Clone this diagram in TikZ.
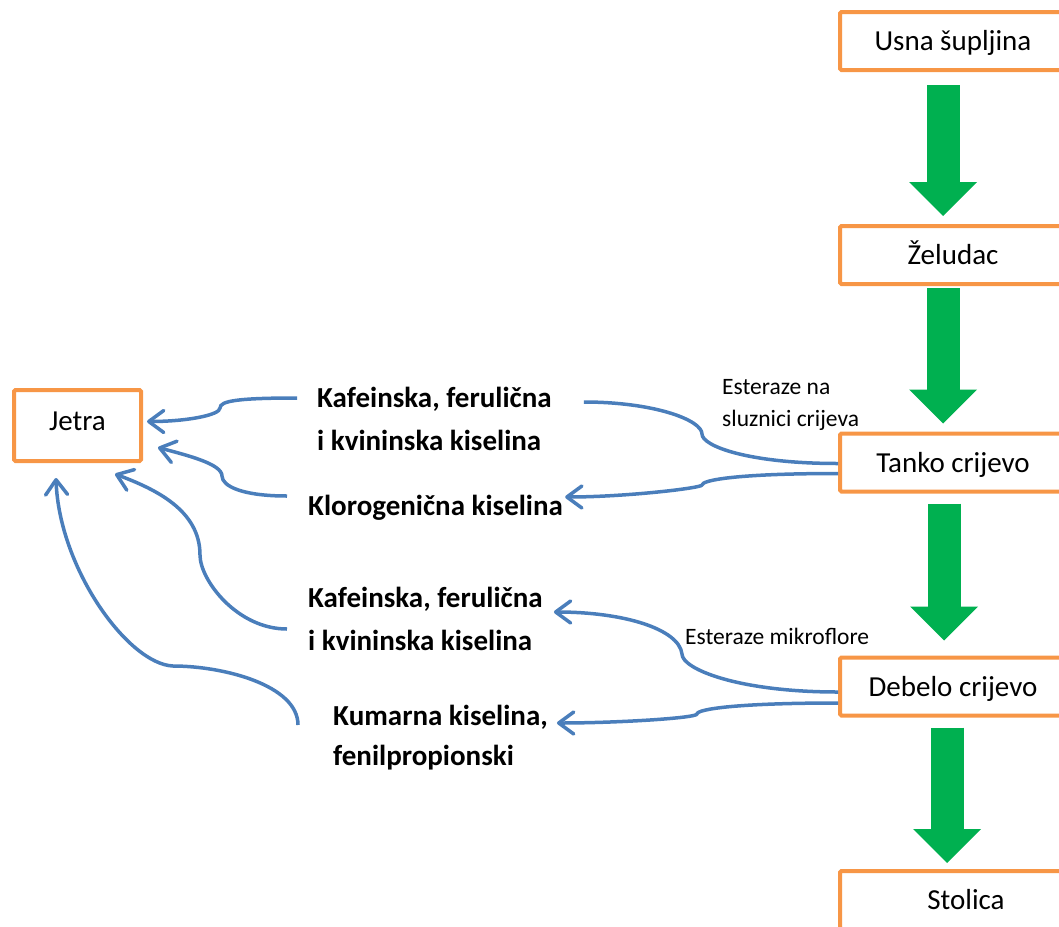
\documentclass[tikz,border=0pt]{standalone}
\usepackage{fontspec}
\setmainfont{Carlito}
\usetikzlibrary{arrows.meta,positioning}

\definecolor{organline}{HTML}{F79646}
\definecolor{flowgreen}{HTML}{00B050}
\definecolor{linkblue}{HTML}{4A7EBB}

\tikzset{
	organ/.style={draw=organline,line width=4pt,rounded corners=1.5pt,fill=white,minimum height=58pt,
		font=\fontsize{29}{35}\selectfont,text height=19pt,text depth=0pt},
	acid/.style={anchor=base west,align=left,font=\fontsize{29}{43}\selectfont\bfseries},
	enzyme/.style={anchor=base west,align=left,font=\fontsize{23.5}{32}\selectfont},
	flow/.style={draw=flowgreen,line width=33pt,-{Triangle[width=68pt,length=34pt,line width=0pt]}},
	link/.style={draw=linkblue,line width=3.5pt},
	linkarrow/.style={link,-{Straight Barb[length=15pt,width=22pt,round]}}
}

\begin{document}
\begin{tikzpicture}[x=1pt,y=-1pt,inner sep=0pt]
	\useasboundingbox (0,0) rectangle (1059,926);
	\clip (0,0) rectangle (1059,926);

	\node[organ,minimum width=226pt] (usna) at (953,41) {Usna šupljina};
	\node[organ,minimum width=226pt] (zeludac) at (953,255) {Želudac};
	\node[organ,minimum width=226pt] (tanko) at (953,462.5) {Tanko crijevo};
	\node[organ,minimum width=226pt] (debelo) at (953,686.5) {Debelo crijevo};
	\node[organ,minimum width=252pt] (stolica) at (966,900) {Stolica};
	\node[organ,minimum width=127pt,minimum height=71pt,text height=9pt] (jetra) at (77.5,425.5) {Jetra};

	\node[acid] (kaf1) at (317,450) {Kafeinska, ferulična\\i kvininska kiselina};
	\node[acid] (klor) at (308,515) {Klorogenična kiselina};
	\node[acid] (kaf2) at (308,650) {Kafeinska, ferulična\\i kvininska kiselina};
	\node[acid] (kum) at (333,765) {Kumarna kiselina,\\[-3pt]fenilpropionski};
	\node[enzyme] (sluz) at (722,426) {Esteraze na\\sluznici crijeva};
	\node[enzyme] (mikro) at (685,644) {Esteraze mikroflore};

	\draw[flow] ([xshift=-10pt,yshift=-13pt]usna.south) -- ([xshift=-10pt,yshift=8pt]zeludac.north);
	\draw[flow] ([xshift=-10pt,yshift=-2pt]zeludac.south) -- ([xshift=-10pt,yshift=8pt]tanko.north);
	\draw[flow] ([xshift=-9pt,yshift=-10pt]tanko.south) -- ([xshift=-9pt,yshift=15pt]debelo.north);
	\draw[flow] ([xshift=-6pt,yshift=-10pt]debelo.south) -- ([xshift=-19pt,yshift=6pt]stolica.north);

	% tanko crijevo
	\draw[link] ([yshift=-1pt]tanko.west) .. controls +(-90,0) and +(0,12) .. (702,434)
		.. controls +(0,-14) and +(70,0) .. ([shift={(32,-48)}]kaf1.base east);
	\draw[linkarrow] ([yshift=-11pt]tanko.west) .. controls +(-100,0) and +(0,-5) .. (702,485)
		.. controls +(0,3) and +(60,0) .. ([shift={(2,-18)}]klor.base east);

	% debelo crijevo
	\draw[linkarrow] ([yshift=-5.5pt]debelo.west) .. controls +(-100,0) and +(0,15) .. (682,654)
		.. controls +(-3,-25) and +(70,0) .. ([shift={(11,-38)}]kaf2.base east);
	\draw[linkarrow] ([yshift=-16.5pt]debelo.west) .. controls +(-100,0) and +(0,-5) .. (697,714)
		.. controls +(0,4) and +(60,0) .. ([shift={(9,-42)}]kum.base east);

	% jetra
	\draw[linkarrow] ([shift={(-20,-52)}]kaf1.base west) .. controls +(-60,0) and +(0,-7) .. (220,408)
		.. controls +(0,7) and +(40,0) .. ([shift={(4,-4)}]jetra.east);
	\draw[linkarrow] ([shift={(-21,-19)}]klor.base west) .. controls +(-45,0) and +(0,10) .. (222,476)
		.. controls +(0,-12) and +(30,8) .. ([shift={(15,22)}]jetra.east);
	\draw[linkarrow] ([shift={(-21,-21)}]kaf2.base west) .. controls +(-50,0) and +(0,25) .. (200,555)
		.. controls +(0,-45) and +(40,15) .. ([shift={(37.5,11)}]jetra.south);
	\draw[linkarrow] ([shift={(-35,-40)}]kum.base west) .. controls +(0,-40) and +(50,0) .. (173,666)
		.. controls +(-45,-2) and +(3,90) .. ([shift={(-21.5,15)}]jetra.south);

\end{tikzpicture}
\end{document}
